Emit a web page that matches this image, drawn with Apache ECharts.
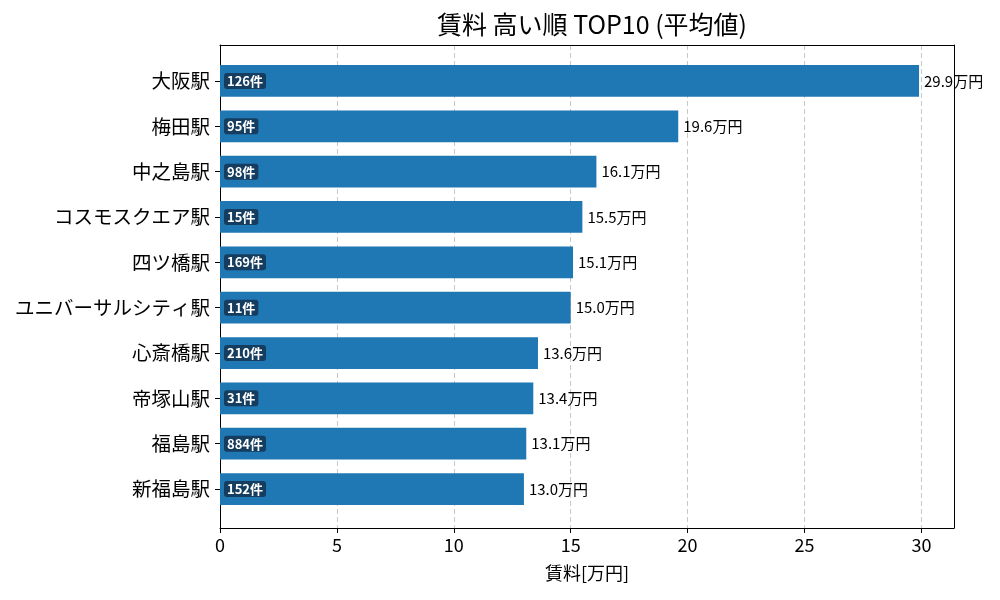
<!DOCTYPE html>
<html>
<head>
<meta charset="UTF-8">
<title>賃料 高い順 TOP10</title>
<script src="https://cdn.jsdelivr.net/npm/echarts@6/dist/echarts.min.js"></script>
<style>
  html, body { margin: 0; padding: 0; background: #fff; }
  #chart { width: 1000px; height: 600px; }
</style>
</head>
<body>
<div id="chart"></div>
<script>
// 駅名 (上から順)
var stations = ['大阪駅', '梅田駅', '中之島駅', 'コスモスクエア駅', '四ツ橋駅',
                'ユニバーサルシティ駅', '心斎橋駅', '帝塚山駅', '福島駅', '新福島駅'];
// 平均賃料 (万円)
var rents = [29.9, 19.6, 16.1, 15.5, 15.1, 15.0, 13.6, 13.4, 13.1, 13.0];
// 物件数
var counts = [126, 95, 98, 15, 169, 11, 210, 31, 884, 152];
var xTicks = [0, 5, 10, 15, 20, 25, 30];

var font = '"Noto Sans CJK JP", "Noto Sans", sans-serif';
var xMax = 31.395;
var frameLine = { show: true, onZero: false, lineStyle: { color: '#000', width: 1 } };

var myChart = echarts.init(document.getElementById('chart'));
var option = {
    animation: false,
    title: {
        text: '賃料 高い順 TOP10 (平均値)',
        left: 587, top: 7, textAlign: 'center',
        textStyle: { fontFamily: font, fontSize: 25, fontWeight: 'normal', color: '#000' }
    },
    grid: [
        // 棒グラフ用 (カテゴリの帯を matplotlib の余白に合わせる)
        { left: 220, right: 46, top: 58.3, bottom: 88.3 },
        // 外枠と x 軸
        { left: 220, right: 46, top: 45, bottom: 72 }
    ],
    xAxis: [
        { gridIndex: 0, type: 'value', min: 0, max: xMax, show: false },
        {
            gridIndex: 1, type: 'value', min: 0, max: xMax, interval: 5,
            name: '賃料[万円]', nameLocation: 'middle', nameGap: 36,
            nameTextStyle: { fontFamily: font, fontSize: 18, color: '#000' },
            axisLine: frameLine,
            axisTick: { show: true, length: 5, lineStyle: { color: '#000' } },
            axisLabel: {
                fontFamily: font, fontSize: 18, color: '#000', margin: 8,
                showMaxLabel: false,
                formatter: function (v) { return xTicks.indexOf(v) >= 0 ? String(v) : ''; }
            },
            splitLine: { show: true, showMinLine: false, showMaxLine: false,
                         lineStyle: { color: '#c8c8c8', type: [5, 3] } }
        },
        // 上枠
        { gridIndex: 1, type: 'value', min: 0, max: xMax, position: 'top',
          axisLine: frameLine, axisTick: { show: false }, axisLabel: { show: false },
          splitLine: { show: false } }
    ],
    yAxis: [
        {
            gridIndex: 0, type: 'category', inverse: true, data: stations,
            axisLine: { show: false },
            axisTick: { show: true, alignWithLabel: true, length: 5, lineStyle: { color: '#000' } },
            axisLabel: { fontFamily: font, fontSize: 19.5, color: '#000', margin: 10 }
        },
        // 左枠
        { gridIndex: 1, type: 'value', min: 0, max: 1, position: 'left',
          axisLine: frameLine, axisTick: { show: false }, axisLabel: { show: false },
          splitLine: { show: false } },
        // 右枠
        { gridIndex: 1, type: 'value', min: 0, max: 1, position: 'right',
          axisLine: frameLine, axisTick: { show: false }, axisLabel: { show: false },
          splitLine: { show: false } }
    ],
    series: [
        {
            type: 'bar', xAxisIndex: 0, yAxisIndex: 0,
            data: rents, barWidth: '70%',
            itemStyle: { color: '#1f77b4' },
            label: {
                show: true, position: 'right', distance: 5,
                fontFamily: font, fontSize: 15, color: '#000',
                formatter: function (p) { return p.value.toFixed(1) + '万円'; }
            }
        },
        {
            // 件数ラベル用の透明な棒
            type: 'bar', xAxisIndex: 0, yAxisIndex: 0,
            data: rents, barWidth: '70%', barGap: '-100%',
            itemStyle: { color: 'rgba(0,0,0,0)' },
            label: {
                show: true, position: 'insideLeft', distance: 4,
                fontFamily: font, fontSize: 13, fontWeight: 'bold', color: '#fff',
                backgroundColor: 'rgba(20,50,80,0.85)', borderRadius: 3, padding: [2, 3, 1, 3],
                formatter: function (p) { return counts[p.dataIndex] + '件'; }
            }
        }
    ]
};
myChart.setOption(option, true);
</script>
</body>
</html>
